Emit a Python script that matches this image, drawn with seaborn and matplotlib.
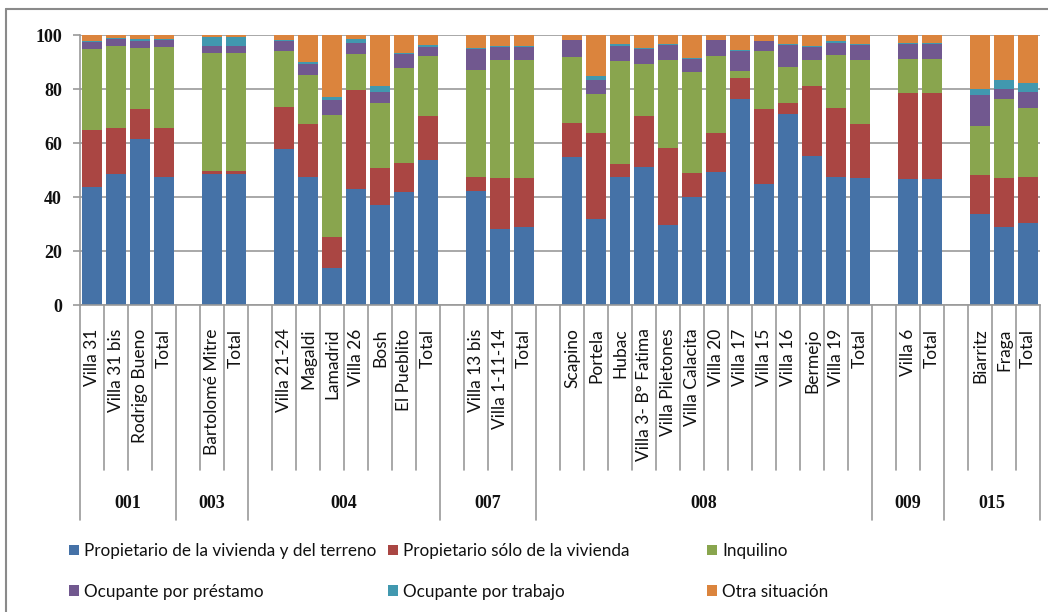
import numpy as np
import pandas as pd
import matplotlib
matplotlib.use("Agg")
import matplotlib.pyplot as plt
import matplotlib.transforms as mtransforms
from matplotlib.patches import Patch
from matplotlib.lines import Line2D
import seaborn as sns

N = np.nan

groups = ["001", "003", "004", "007", "008", "009", "015"]
group_sizes = [4, 3, 8, 4, 14, 3, 4]

categories = ["Villa 31", "Villa 31 bis", "Rodrigo Bueno", "Total",
              "", "Bartolomé Mitre", "Total",
              "", "Villa 21-24", "Magaldi", "Lamadrid", "Villa 26", "Bosh", "El Pueblito", "Total",
              "", "Villa 13 bis", "Villa 1-11-14", "Total",
              "", "Scapino", "Portela", "Hubac", "Villa 3- B° Fatima", "Villa Piletones",
              "Villa Calacita", "Villa 20", "Villa 17", "Villa 15", "Villa 16", "Bermejo",
              "Villa 19", "Total",
              "", "Villa 6", "Total",
              "", "Biarritz", "Fraga", "Total"]

propietario_total = [43.6, 48.6, 61.5, 47.4, N, 48.6, 48.6, N, 57.7, 47.4, 13.8, 43.1, 37.2, 41.9, 53.8,
                     N, 42.2, 28.1, 29.0, N, 54.7, 31.7, 47.4, 51.2, 29.5, 40.1, 49.1, 76.3, 44.9, 70.9,
                     55.1, 47.4, 47.0, N, 46.5, 46.5, N, 33.8, 29.0, 30.4]
propietario_vivienda = [21.2, 17.1, 11.0, 18.3, N, 1.0, 1.0, N, 15.6, 19.6, 11.4, 36.7, 13.7, 10.6, 16.2,
                        N, 5.2, 18.9, 18.0, N, 12.7, 31.9, 4.7, 18.8, 28.6, 8.7, 14.5, 7.8, 27.6, 3.8,
                        26.0, 25.6, 20.0, N, 32.0, 32.0, N, 14.5, 18.0, 17.1]
inquilino = [29.9, 30.2, 22.6, 29.7, N, 43.7, 43.7, N, 20.9, 18.2, 45.2, 13.3, 23.8, 35.4, 22.2,
             N, 39.6, 43.9, 43.9, N, 24.3, 14.5, 38.4, 19.3, 32.8, 37.4, 28.5, 2.6, 21.7, 13.6,
             9.8, 19.6, 23.9, N, 12.7, 12.7, N, 17.9, 29.4, 25.6]
prestamo = [2.8, 2.6, 2.7, 2.7, N, 2.6, 2.6, N, 3.5, 3.9, 5.6, 3.8, 4.3, 5.2, 3.4,
            N, 7.7, 4.8, 4.8, N, 6.4, 5.1, 5.5, 5.5, 5.5, 4.8, 6.0, 7.5, 3.5, 8.1,
            4.8, 4.6, 5.4, N, 5.6, 5.6, N, 11.5, 3.5, 5.9]
trabajo = [0.3, 0.4, 0.6, 0.4, N, 3.5, 3.5, N, 0.4, 0.9, 1.2, 1.5, 2.1, 0.4, 0.7,
           N, 0.5, 0.3, 0.3, N, 0.2, 1.7, 0.8, 0.4, 0.4, 0.4, 0.2, 0.2, 0.2, 0.3,
           0.3, 0.5, 0.2, N, 0.2, 0.2, N, 2.2, 3.4, 3.3]
otra = [2.2, 1.1, 1.6, 1.5, N, 0.6, 0.6, N, 1.9, 10.0, 22.8, 1.6, 18.9, 6.5, 3.7,
        N, 4.8, 4.0, 4.0, N, 1.7, 15.1, 3.2, 4.8, 3.2, 8.6, 1.7, 5.6, 2.1, 3.3,
        4.0, 2.3, 3.5, N, 3.0, 3.0, N, 20.1, 16.7, 17.7]

series_names = ["Propietario de la vivienda y del terreno", "Propietario sólo de la vivienda",
                "Inquilino", "Ocupante por préstamo", "Ocupante por trabajo", "Otra situación"]
series_values = [propietario_total, propietario_vivienda, inquilino, prestamo, trabajo, otra]
colors = ["#4572A7", "#AA4643", "#89A54E", "#71588F", "#4198AF", "#DB843D"]

sns.set_style("white")
plt.rcParams["font.family"] = ["Lato", "DejaVu Sans"]
plt.rcParams["text.color"] = "#111111"
plt.rcParams["xtick.color"] = "#111111"
plt.rcParams["ytick.color"] = "#111111"

W, H = 1048, 612
fig = plt.figure(figsize=(W / 100, H / 100), dpi=100)
ax = fig.add_axes([80 / W, 1 - 305 / H, 960 / W, 270 / H])

slots = list(range(len(categories)))
vals = np.array(series_values, dtype=float)
cum = np.cumsum(vals, axis=0)

# stacked bars: draw cumulative totals from top layer down
for i in range(len(series_names) - 1, -1, -1):
    df = pd.DataFrame({"slot": slots, "value": cum[i]})
    sns.barplot(data=df, x="slot", y="value", order=slots, color=colors[i],
                saturation=1, width=0.82, errorbar=None, linewidth=0, ax=ax)

ax.set_xlim(-0.5, len(categories) - 0.5)
ax.set_ylim(0, 100)
ax.set_xlabel("")
ax.set_ylabel("")

# grid
ax.set_yticks([0, 20, 40, 60, 80, 100])
ax.yaxis.grid(True, color="#9a9a9a", linewidth=1.2)
ax.set_axisbelow(True)
for s in ["top", "right"]:
    ax.spines[s].set_visible(False)
for s in ["left", "bottom"]:
    ax.spines[s].set_color("#9a9a9a")
    ax.spines[s].set_linewidth(1.2)

ax.tick_params(axis="y", length=5, color="#9a9a9a", width=1.2, pad=8, left=True)
for lbl in ax.get_yticklabels():
    lbl.set_fontfamily(["Liberation Serif", "DejaVu Serif"])
    lbl.set_fontweight("bold")
    lbl.set_fontsize(13)

ax.set_xticks(slots)
ax.set_xticklabels(categories, rotation=90, fontsize=12.5, va="top", ha="center")
ax.tick_params(axis="x", length=0, pad=17)

# category separators
trans = mtransforms.blended_transform_factory(ax.transData, ax.transAxes)
bounds = np.concatenate([[0], np.cumsum(group_sizes)])
inner_bottom = (305 - 470) / 270
outer_bottom = (305 - 520) / 270
for k in range(len(categories) + 1):
    yb = outer_bottom if k in bounds else inner_bottom
    ax.plot([k - 0.5, k - 0.5], [0, yb], transform=trans, color="#9a9a9a",
            linewidth=1.2, clip_on=False)

# group labels
for g, a, b in zip(groups, bounds[:-1], bounds[1:]):
    ax.text((a + b - 1) / 2, (305 - 503) / 270, g, transform=trans, ha="center", va="center",
            fontsize=13, fontweight="bold", family=["Liberation Serif", "DejaVu Serif"])

# legend in three columns
col_x = [69, 388, 707]
for j in range(3):
    idx = [j, j + 3]
    handles = [Patch(facecolor=colors[i], edgecolor="none") for i in idx]
    labels = [series_names[i] for i in idx]
    fig.legend(handles, labels, loc="upper left", bbox_to_anchor=(col_x[j] / W, 1 - 543 / H),
               frameon=False, borderpad=0, borderaxespad=0, handlelength=0.6, handleheight=0.6,
               handletextpad=0.3, labelspacing=1.45, fontsize=12.3)

# chart border (left and top visible)
fig.add_artist(Line2D([6 / W, 6 / W], [0, 1 - 9 / H], transform=fig.transFigure,
                      color="#8a8a8a", linewidth=1.5))
fig.add_artist(Line2D([6 / W, 1], [1 - 9 / H, 1 - 9 / H], transform=fig.transFigure,
                      color="#8a8a8a", linewidth=1.5))

fig.savefig("out.png", dpi=100)
